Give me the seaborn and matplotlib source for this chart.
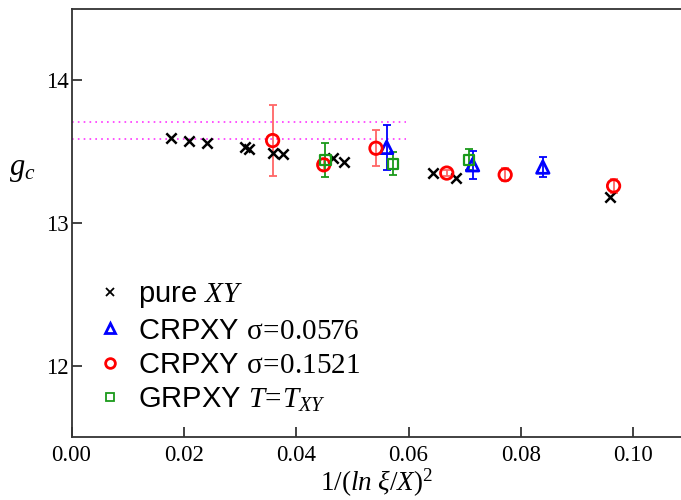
import matplotlib
matplotlib.use("Agg")
import matplotlib.pyplot as plt
import seaborn as sns
import pandas as pd
from matplotlib.lines import Line2D

sns.set_style("white")
plt.rcParams['font.family'] = ['Liberation Sans', 'DejaVu Sans']
plt.rcParams['mathtext.fontset'] = 'custom'
plt.rcParams['mathtext.rm'] = 'Liberation Serif'
plt.rcParams['mathtext.it'] = 'Liberation Serif:italic'
plt.rcParams['mathtext.bf'] = 'Liberation Serif:bold'
plt.rcParams['text.color'] = 'black'
plt.rcParams['axes.labelcolor'] = 'black'
plt.rcParams['xtick.color'] = 'black'
plt.rcParams['ytick.color'] = 'black'

# pure XY
pure_x = [0.0178, 0.0209, 0.0241, 0.0308, 0.0316, 0.0358, 0.0376, 0.0466, 0.0485, 0.0643, 0.0685, 0.0959]
pure_y = [13.594, 13.578, 13.559, 13.536, 13.520, 13.489, 13.483, 13.455, 13.430, 13.350, 13.315, 13.180]

# CRPXY sigma=0.0576
c1_x = [0.0561, 0.0714, 0.0839]
c1_y = [13.530, 13.408, 13.392]
c1_e = [0.160, 0.097, 0.070]

# CRPXY sigma=0.1521
c2_x = [0.0358, 0.0449, 0.0542, 0.0668, 0.0772, 0.0965]
c2_y = [13.578, 13.408, 13.524, 13.350, 13.338, 13.260]
c2_e = [0.250, 0.040, 0.126, 0.020, 0.045, 0.050]

# GRPXY T=T_XY
g_x = [0.0452, 0.0572, 0.0707]
g_y = [13.443, 13.415, 13.443]
g_e = [0.120, 0.080, 0.075]

# reference lines
ref_levels = [13.708, 13.587]
ref_xmax = 0.0595

xticks = [0.00, 0.02, 0.04, 0.06, 0.08, 0.10]
yticks = [12, 13, 14]

fig = plt.figure(figsize=(6.81, 5.0), dpi=100)
ax = fig.add_axes([0.105, 0.126, 0.895, 0.856])

for lv in ref_levels:
    ax.plot([0, ref_xmax], [lv, lv], color='#ff33ff', ls=(0, (1, 2.5)), lw=1.2, zorder=1)

# error bars
ax.errorbar(c2_x, c2_y, yerr=c2_e, fmt='none', ecolor='#ff6666', elinewidth=1.3, capsize=2.7, capthick=1.3, zorder=2)
ax.errorbar(c1_x, c1_y, yerr=c1_e, fmt='none', ecolor='#0000ff', elinewidth=1.3, capsize=2.7, capthick=1.3, zorder=2)
ax.errorbar(g_x, g_y, yerr=g_e, fmt='none', ecolor='#1a9a1a', elinewidth=1.3, capsize=2.7, capthick=1.3, zorder=2)

df_pure = pd.DataFrame({'x': pure_x, 'y': pure_y})
df_c1 = pd.DataFrame({'x': c1_x, 'y': c1_y})
df_c2 = pd.DataFrame({'x': c2_x, 'y': c2_y})
df_g = pd.DataFrame({'x': g_x, 'y': g_y})

sns.scatterplot(data=df_pure, x='x', y='y', ax=ax, marker='x', color='black', s=55, linewidth=1.8, zorder=3, legend=False)
sns.scatterplot(data=df_c1, x='x', y='y', ax=ax, marker='^', facecolor='none', edgecolor='#0000ff', s=80, linewidth=2.0, zorder=3, legend=False)
sns.scatterplot(data=df_c2, x='x', y='y', ax=ax, marker='o', facecolor='none', edgecolor='#ff0000', s=80, linewidth=2.0, zorder=3, legend=False)
sns.scatterplot(data=df_g, x='x', y='y', ax=ax, marker='s', facecolor='none', edgecolor='#1a9a1a', s=55, linewidth=1.6, zorder=3, legend=False)

ax.set_xlim(0, 0.1085)
ax.set_ylim(11.5, 14.5)
ax.set_xticks(xticks)
ax.set_xticklabels([f"{v:.2f}" for v in xticks])
ax.set_yticks(yticks)
ax.set_yticklabels([str(v) for v in yticks])
for lab in ax.get_xticklabels() + ax.get_yticklabels():
    lab.set_fontfamily('Liberation Serif')
    lab.set_fontsize(16.5)
ax.tick_params(direction='in', length=7.2, width=1.2, color='#222222', bottom=True, left=True)
ax.tick_params(axis='x', pad=6)
ax.tick_params(axis='y', pad=2)

for side in ['left', 'bottom', 'top']:
    ax.spines[side].set_color('#333333')
    ax.spines[side].set_linewidth(1.3)
ax.spines['right'].set_visible(False)

ax.set_xlabel(r'$\mathit{1/(ln\ \xi/X)}^{2}$', fontsize=19.5, labelpad=0.5)
ax.set_ylabel(r'$g_c$', fontsize=22, rotation=0)
ax.yaxis.set_label_coords(-0.08, 0.59)

handles = [
    Line2D([], [], ls='none', marker='x', color='black', ms=6, mew=1.3),
    Line2D([], [], ls='none', marker='^', mfc='none', mec='#0000ff', ms=7, mew=2),
    Line2D([], [], ls='none', marker='o', mfc='none', mec='#ff0000', ms=7, mew=2),
    Line2D([], [], ls='none', marker='s', mfc='none', mec='#1a9a1a', ms=6, mew=1.3),
]
labels = [
    r'pure $\mathit{XY}$',
    r'CRPXY $\mathrm{σ}\!=\!\mathrm{0.0576}$',
    r'CRPXY $\mathrm{σ}\!=\!\mathrm{0.1521}$',
    r'GRPXY $\mathit{T}\!=\!\mathit{T}_{\mathit{XY}}$',
]
leg = fig.legend(handles, labels, loc='center left', bbox_to_anchor=(0.140, 0.306),
                 frameon=False, fontsize=21, handlelength=1.0, handletextpad=0.47,
                 labelspacing=0.22, borderpad=0, borderaxespad=0)

fig.savefig('out.png', dpi=100)
